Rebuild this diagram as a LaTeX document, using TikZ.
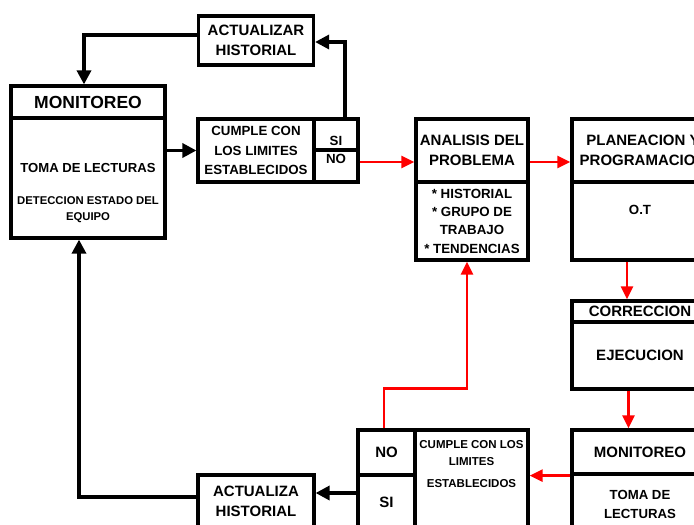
\documentclass[tikz,border=0pt]{standalone}
\usepackage{fontspec}
\setmainfont{Liberation Sans}
\usetikzlibrary{arrows.meta,positioning}

\begin{document}
\begin{tikzpicture}[x=1pt, y=-1pt,
 box/.style={rectangle,draw,line width=3.2pt,inner sep=2pt,align=center,font=\bfseries\fontsize{15}{20}\selectfont},
 mid/.style={font=\bfseries\fontsize{13.3}{19.5}\selectfont},
 small/.style={font=\bfseries\fontsize{11.3}{16}\selectfont},
 txt/.style={inner sep=0pt,align=center},
 line/.style={-{Triangle[length=14pt,width=14pt]},line width=3.3pt},
 redline/.style={-{Triangle[length=13pt,width=12pt]},line width=2.6pt,red}]
\useasboundingbox (0,0) rectangle (694,525);
\clip (0,0) rectangle (694,525);
% upper loop
\node[box,minimum width=115pt,minimum height=49pt] (actA) at (256,40.5) {ACTUALIZAR\\HISTORIAL};
\node[box,font=\bfseries\fontsize{17.5}{20}\selectfont,minimum width=154pt,minimum height=32pt] (mon1h) at (88,102) {MONITOREO};
\node[box,minimum width=154pt,minimum height=120pt,below=-3.2pt of mon1h] (mon1b) {};
\node[txt,small] (mon1t) at (88,193) {{\fontsize{13.1}{16}\selectfont TOMA DE LECTURAS}\\[16pt]DETECCION ESTADO DEL\\EQUIPO};
\node[box,mid,minimum width=116pt,minimum height=63pt] (cum1) at (256,150.5) {CUMPLE CON\\LOS LIMITES\\ESTABLECIDOS};
\node[box,mid,minimum width=44pt,minimum height=31pt,text height=22.5pt,text depth=0pt] (si1) at (336,134.5) {SI};
\node[box,mid,minimum width=44pt,minimum height=32pt,text height=9.5pt,text depth=14pt,below=-3.2pt of si1] (no1) {NO};
% analysis and planning
\node[box,minimum width=112pt,minimum height=63pt] (anah) at (472,150.5) {ANALISIS DEL\\PROBLEMA};
\node[box,font=\bfseries\fontsize{13.3}{18.3}\selectfont,minimum width=112pt,minimum height=78pt,below=-3.2pt of anah] (anab) {* HISTORIAL\\* GRUPO DE\\TRABAJO\\* TENDENCIAS};
\node[box,minimum width=142pt,minimum height=63pt] (planh) at (643,150.5) {PLANEACION Y\\PROGRAMACION};
\node[box,minimum width=142pt,minimum height=78pt,below=-3.2pt of planh] (planb) {};
\node[txt,mid] (planT) at (640,210) {O.T};
\node[box,minimum width=136pt,minimum height=21pt] (corh) at (640,311.5) {CORRECCION};
\node[box,minimum width=136pt,minimum height=67pt,below=-3.2pt of corh] (corb) {EJECUCION};
% lower loop
\node[box,minimum width=136pt,minimum height=44pt] (mon2h) at (640,452) {MONITOREO};
\node[box,minimum width=136pt,minimum height=100pt,below=-3.2pt of mon2h] (mon2b) {};
\node[txt,font=\bfseries\fontsize{13.2}{19}\selectfont] (mon2t) at (640,504.5) {TOMA DE\\LECTURAS};
\node[box,minimum width=57pt,minimum height=45pt] (no2) at (386.5,452.5) {NO};
\node[box,minimum width=57pt,minimum height=54pt,below=-3.2pt of no2] (si2) {SI};
\node[box,minimum width=113pt,minimum height=140pt] (cum2) at (471.5,500) {};
\node[txt,font=\bfseries\fontsize{11.5}{17}\selectfont] (cum2t) at (471.5,464.5) {CUMPLE CON LOS\\LIMITES\\[5pt]ESTABLECIDOS};
\node[box,minimum width=116pt,minimum height=53pt] (actB) at (256,501.5) {ACTUALIZA\\HISTORIAL};
% connectors
\coordinate (r1) at ([yshift=4pt]no1.east);
\coordinate (r2) at ([xshift=-16pt]planb.south);
\coordinate (r3) at ([xshift=-11.5pt]corb.south);
\coordinate (b1) at ([yshift=9pt]si2.west);
\draw[line] ([yshift=5.5pt]actA.west) -| ([xshift=-4pt]mon1h.north);
\draw[line] ([xshift=9pt]si1.north) |- ([yshift=-1.5pt]actA.east);
\draw[line] (mon1b.east |- cum1.west) -- (cum1.west);
\draw[redline] (r1) -- (r1 -| anah.west);
\draw[redline] (r1 -| anah.east) -- (r1 -| planh.west);
\draw[redline] (r2) -- (r2 |- corh.north);
\draw[redline] (r3) -- (r3 |- mon2h.north);
\draw[redline] (mon2h.south west) -- (mon2h.south west -| cum2.east);
\draw[redline] ([xshift=-2.5pt]no2.north) -- ++(0,-40) -| ([xshift=-5pt]anab.south);
\draw[line] (b1) -- (b1 -| actB.east);
\draw[line] ([yshift=4.5pt]actB.west) -| ([xshift=-9pt]mon1b.south);
\end{tikzpicture}
\end{document}
